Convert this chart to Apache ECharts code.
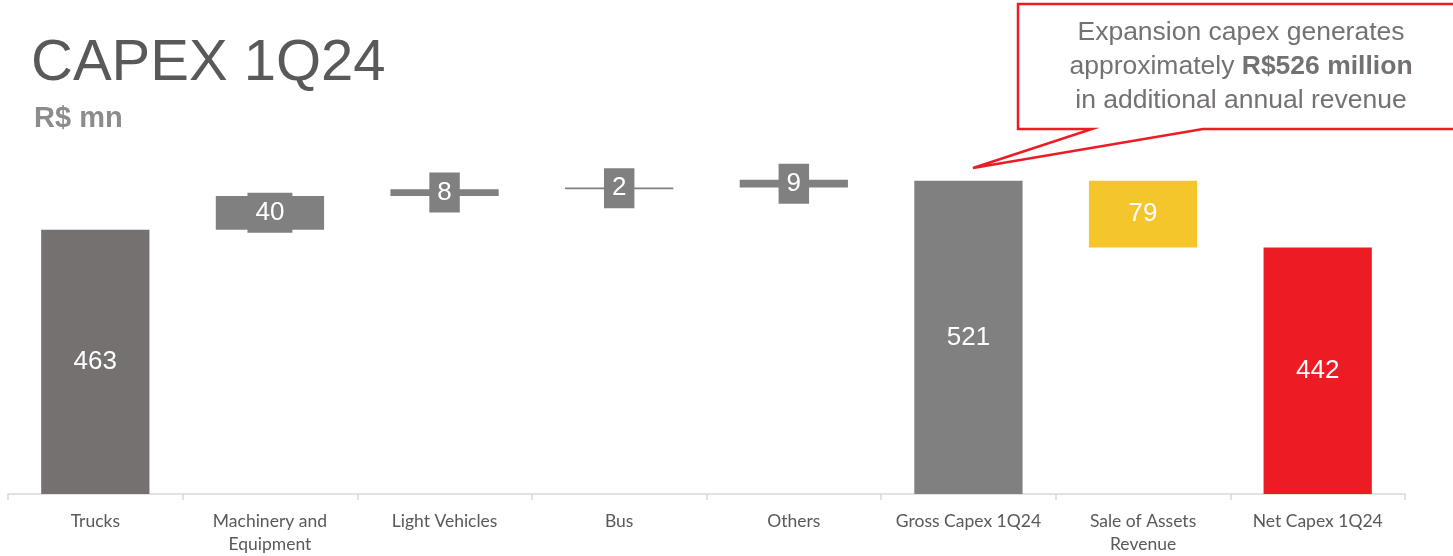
<!DOCTYPE html>
<html>
<head>
<meta charset="utf-8">
<script src="https://cdn.jsdelivr.net/npm/echarts@6/dist/echarts.min.js"></script>
<style>
html,body{margin:0;padding:0;background:#fff;}
#c{width:1453px;height:556px;}
</style>
</head>
<body>
<div id="c"></div>
<script>
const categories = ['Trucks', 'Machinery and\nEquipment', 'Light Vehicles', 'Bus', 'Others', 'Gross Capex 1Q24', 'Sale of Assets\nRevenue', 'Net Capex 1Q24'];
const values = [463, 40, 8, 2, 9, 521, 79, 442];
const kinds = ['total', 'up', 'up', 'up', 'up', 'total', 'down', 'total'];
const barColors = ['#767171', '#808080', '#808080', '#808080', '#808080', '#808080', '#F4C62B', '#ED1C24'];

// waterfall bases derived from values
const bases = [];
let running = 0;
values.forEach((v, i) => {
  if (kinds[i] === 'total') { bases.push(0); running = v; }
  else if (kinds[i] === 'up') { bases.push(running); running += v; }
  else { running -= v; bases.push(running); }
});

const chart = echarts.init(document.getElementById('c'));
const numFont = "'Liberation Sans', Arial, sans-serif";

chart.setOption({
  animation: false,
  title: [
    { text: 'CAPEX 1Q24', left: 26, top: 30,
      textStyle: { fontSize: 58, fontWeight: 'normal', color: '#595959', fontFamily: numFont } },
    { text: 'R$ mn', left: 29, top: 99,
      textStyle: { fontSize: 29, fontWeight: 'bold', color: '#8C8C8C', fontFamily: numFont } }
  ],
  grid: { left: 8, right: 48, top: 114, bottom: 62 },
  xAxis: {
    type: 'category',
    data: categories,
    axisLine: { lineStyle: { color: '#D9D9D9', width: 1.5 } },
    axisTick: { show: true, length: 6, lineStyle: { color: '#D9D9D9', width: 1.5 } },
    axisLabel: { interval: 0, color: '#595959', fontSize: 17.5, lineHeight: 23, margin: 16,
      fontFamily: "Lato, 'Open Sans', sans-serif" }
  },
  yAxis: { type: 'value', min: 150, max: 600, show: false, splitLine: { show: false } },
  series: [
    { type: 'bar', stack: 'w', data: bases, barWidth: '62%',
      itemStyle: { color: 'rgba(0,0,0,0)' }, silent: true },
    { type: 'bar', stack: 'w', barWidth: '62%',
      data: values.map((v, i) => ({
        value: v,
        itemStyle: { color: barColors[i] },
        label: { backgroundColor: barColors[i] }
      })),
      label: { show: true, position: 'inside', color: '#fff', fontSize: 26, fontFamily: numFont,
        padding: [8, 8, 6, 8], lineHeight: 26 }
    }
  ],
  graphic: [
    { type: 'polygon', z: 10,
      shape: { points: [[1018, 4], [1458, 4], [1458, 129], [1203, 129], [973, 168], [1092, 129], [1018, 129]] },
      style: { fill: '#fff', stroke: '#ED1C24', lineWidth: 2.5, lineJoin: 'miter' } },
    { type: 'text', z: 11, x: 1241, y: 16,
      style: {
        text: '{n|Expansion capex generates}\n{n|approximately }{b|R$526 million}\n{n|in additional annual revenue}',
        align: 'center', verticalAlign: 'top', fill: '#767171',
        rich: {
          n: { fontSize: 26.5, lineHeight: 34, fill: '#767171', fontFamily: numFont },
          b: { fontSize: 26.5, lineHeight: 34, fill: '#767171', fontFamily: numFont, fontWeight: 'bold' }
        }
      } }
  ]
});
</script>
</body>
</html>
